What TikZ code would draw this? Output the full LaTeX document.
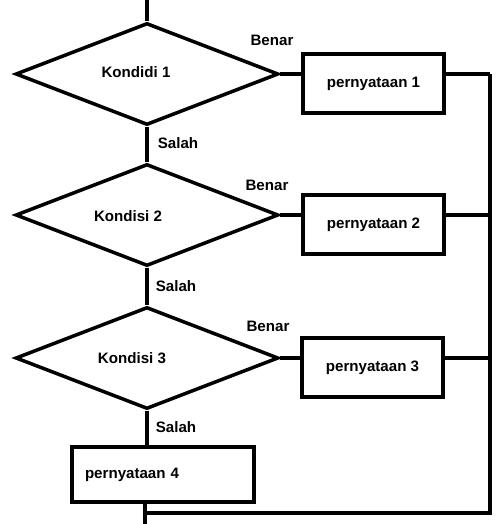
\documentclass[tikz,border=0pt]{standalone}
\usepackage{fontspec}
\setmainfont{Liberation Sans}
\usetikzlibrary{shapes.geometric}

\begin{document}
\begin{tikzpicture}[x=0.02cm,y=-0.02cm]
		% Styles for the flowchart parts
		\tikzset{
			kondisi/.style={draw, shape=diamond, inner sep=0pt, minimum width=5.26cm, minimum height=2.04cm, line width=2pt},
			aksi/.style={draw, rectangle, inner sep=0pt, minimum width=2.82cm, minimum height=1.18cm, line width=2pt},
			teks/.style={font=\fontsize{8.6}{10}\selectfont\bfseries, inner sep=0pt},
			garis/.style={line width=2pt}
		}
		\useasboundingbox (0,0) rectangle (498,524);
		
		% Decisions
		\node[kondisi] (k1) at (147,74) {};
		\node[kondisi] (k2) at (147,215) {};
		\node[kondisi] (k3) at (147,358) {};
		\node[teks] (tk1) at (136,72) {Kondidi 1};
		\node[teks] (tk2) at (128,216) {Kondisi 2};
		\node[teks] (tk3) at (132,358) {Kondisi 3};
		
		% Statements
		\node[aksi, teks] (p1) at (373.5,83.5) {pernyataan 1\hspace{0.16cm}};
		\node[aksi, teks] (p2) at (373.5,224.5) {pernyataan 2\hspace{0.16cm}};
		\node[aksi, teks] (p3) at (372.5,367.5) {pernyataan 3\hspace{0.16cm}};
		\node[aksi, teks, minimum width=3.64cm, minimum height=1.1cm, text width=3.12cm, align=left] (p4) at (163,474.5) {pernyataan 4};
		
		% Branch labels
		\node[teks] (b1) at (272,40) {Benar};
		\node[teks] (b2) at (267,185) {Benar};
		\node[teks] (b3) at (268,326) {Benar};
		\node[teks] (s1) at (178,143) {Salah};
		\node[teks] (s2) at (176,286) {Salah};
		\node[teks] (s3) at (176,427) {Salah};
		
		% Free ends of the flow
		\coordinate (masuk) at (147,0);
		\coordinate (keluar) at (145,524);
		\coordinate (gabung) at (490,513);
		
		% Main flow down the left
		\draw[garis] (masuk) -- (k1.north);
		\draw[garis] (k1.south) -- (k2.north);
		\draw[garis] (k2.south) -- (k3.north);
		\draw[garis] (k3.south) -- (k3.south |- p4.north);
		\draw[garis] (p4.south -| keluar) -- (keluar);
		
		% True branches to the right
		\draw[garis] (k1.east) -- (k1.east -| p1.west);
		\draw[garis] (k2.east) -- (k2.east -| p2.west);
		\draw[garis] (k3.east) -- (k3.east -| p3.west);
		\draw[garis] (k1.east -| p1.east) -- (k1.east -| gabung);
		\draw[garis] (k2.east -| p2.east) -- (k2.east -| gabung);
		\draw[garis] (k3.east -| p3.east) -- (k3.east -| gabung);
		
		% Return line
		\draw[garis] (k1.east -| gabung) -- (gabung) -- (gabung -| keluar);
	\end{tikzpicture}
\end{document}
